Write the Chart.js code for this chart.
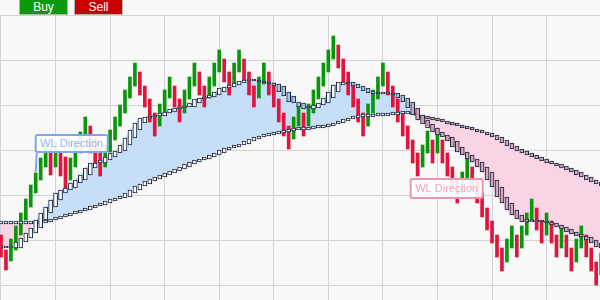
<!DOCTYPE html>
<html><head><meta charset="utf-8">
<script src="https://cdn.jsdelivr.net/npm/chart.js@4/dist/chart.umd.min.js"></script>
<style>
html,body{margin:0;padding:0;background:#f8f8f8;overflow:hidden}
#wrap{position:relative;width:600px;height:300px;font-family:"Liberation Sans",Arial,sans-serif}
canvas{position:absolute;left:0;top:0}
.btn{position:absolute;top:0;height:14px;width:47px;color:#fff;font-size:12px;line-height:14px;text-align:center;border:1px solid #b5b5b5;border-top:none}
</style></head><body>
<div id="wrap"><canvas id="c" width="600" height="300"></canvas>
<div class="btn" style="left:19px;background:#0a9a0a">Buy</div>
<div class="btn" style="left:74px;background:#c90000">Sell</div>
</div>
<script>
// Bar ranges (price units)
const highs = [65,50,61,74,87,101,115,127,142,155,153,158,148,143,142,157,168,183,174,162,152,155,170,183,195,210,223,237,228,214,201,187,196,210,223,214,201,210,223,237,228,214,223,237,250,241,228,237,250,241,228,214,223,237,228,217,201,187,174,183,196,187,196,210,223,237,250,264,255,241,228,214,201,187,196,210,223,237,228,214,201,187,174,160,147,155,169,160,169,160,147,133,120,128,142,133,120,107,92,79,65,52,61,74,65,74,87,101,92,79,87,79,65,74,65,52,61,74,65,52,38,47];
const lows  = [43,30,39,50,65,80,93,107,120,133,125,133,124,112,120,133,147,165,147,137,124,133,148,160,174,187,202,214,205,193,178,164,174,188,202,193,178,187,201,214,205,193,202,214,228,218,205,214,228,218,205,193,202,216,205,193,178,164,151,161,174,164,174,187,201,214,228,241,232,218,205,193,178,164,174,187,201,214,205,193,178,164,151,137,124,133,147,137,147,137,124,112,97,107,120,112,97,83,70,57,43,29,38,52,43,52,65,80,70,57,65,57,43,52,43,29,38,52,43,29,15,25];
const direction = ['D','D','U','U','U','U','U','U','U','U','D','U','D','D','U','U','U','U','D','D','D','U','U','U','U','U','U','U','D','D','D','D','U','U','U','D','D','U','U','U','D','D','U','U','U','D','D','U','U','D','D','D','U','U','D','D','D','D','D','U','U','D','U','U','U','U','U','U','D','D','D','D','D','D','U','U','U','U','D','D','D','D','D','D','D','U','U','D','U','D','D','D','D','U','U','D','D','D','D','D','D','D','U','U','D','U','U','U','D','D','U','D','D','U','D','D','U','U','D','D','D','U'];
// Fast and slow WL lines
const fast = [52,52,52,58,62,67,72,80,87,93,100,107,110,112,117,120,125,132,137,137,140,143,147,149,155,162,170,177,182,183,184,184,187,188,191,192,193,193,197,201,202,203,205,208,212,213,215,217,219,220,219,219,218,217,216,214,208,204,198,197,193,191,192,195,197,202,208,215,218,218,216,214,212,209,207,206,206,207,207,205,202,198,192,185,180,176,172,168,165,163,159,153,148,145,141,138,133,128,120,113,103,97,90,85,81,78,78,79,79,78,77,75,73,71,68,66,64,63,60,57,53,52];
const slow = [76,76,76,76,76,76,76,77,78,80,81,83,84,86,87,89,90,92,94,95,97,99,101,102,103,107,110,114,116,119,121,123,125,127,129,131,133,136,138,140,141,143,145,147,150,152,153,155,156,159,161,163,164,165,166,167,168,169,170,170,170,171,172,172,173,174,176,177,179,181,182,183,183,183,184,184,184,185,185,186,186,186,186,185,184,182,181,180,179,178,176,175,174,172,171,170,168,167,165,163,160,157,154,151,149,147,145,143,141,139,137,136,134,132,130,128,125,123,120,118,116,114];
const xGridTicks = [0,11,22,33,44,55,66,77,88,99,110];
const yGridTicks = [15,60,105,150,195,240,285];
const labelText = 'WL Direction';

const UP = '#0a960a', DOWN = '#e0143c';
const BLUE = 'rgb(198,222,248)', PINK = 'rgb(250,212,228)';
const prev = i => Math.max(0, i - 2);
const boxes = arr => arr.map((v, i) => ({x: i, y: [arr[prev(i)], v]}));
const boxColors = arr => arr.map((v, i) => v >= arr[prev(i)] ? '#f6f9fd' : (fast[i] > slow[i] ? '#a9c4e4' : '#d4a5bc'));

function drawLabel(ctx, x, y, w, h, border, color) {
  ctx.save();
  ctx.beginPath();
  ctx.roundRect(x + 1, y + 1, w - 2, h - 2, 2);
  ctx.fillStyle = 'rgba(255,255,255,0.9)';
  ctx.fill();
  ctx.lineWidth = 2;
  ctx.strokeStyle = border;
  ctx.stroke();
  ctx.fillStyle = color;
  ctx.font = '11px "Liberation Sans", Arial, sans-serif';
  ctx.textAlign = 'center';
  ctx.textBaseline = 'middle';
  ctx.fillText(labelText, x + w / 2, y + h / 2 + 0.5);
  ctx.restore();
}

const labelPlugin = {
  id: 'wlLabels',
  afterDatasetsDraw(chart) {
    const xs = chart.scales.x, ys = chart.scales.y, ctx = chart.ctx;
    let c1 = -1, c2 = -1;
    for (let i = 1; i < fast.length; i++) {
      const d0 = fast[i-1] - slow[i-1], d1 = fast[i] - slow[i];
      if (c1 < 0 && d0 <= 0 && d1 > 0) c1 = i;
      if (c2 < 0 && d0 > 0 && d1 <= 0) c2 = i;
    }
    if (c1 >= 0) {
      const ax = xs.getPixelForValue(c1), ay = ys.getPixelForValue(highs[c1]);
      ctx.save();
      ctx.strokeStyle = '#7fa6e6'; ctx.lineWidth = 2;
      ctx.beginPath(); ctx.moveTo(ax + 1, ay - 20); ctx.lineTo(ax, ay - 1); ctx.stroke();
      ctx.restore();
      drawLabel(ctx, ax - 1, ay - 39, 74, 19, '#7fa6e6', '#92b2ec');
    }
    if (c2 >= 0) {
      const ax = xs.getPixelForValue(c2), ay = ys.getPixelForValue(lows[c2]);
      drawLabel(ctx, ax - 3, ay + 15, 74, 21, '#e895b2', '#eda3bd');
    }
  }
};

new Chart(document.getElementById('c'), {
  type: 'bar',
  data: {
    datasets: [
      {type: 'line', data: fast.map((v, i) => ({x: i, y: v})), borderWidth: 0, borderColor: 'rgba(0,0,0,0)', pointRadius: 0,
       fill: {target: 1, above: BLUE, below: PINK}, order: 10},
      {type: 'line', data: slow.map((v, i) => ({x: i, y: v})), borderWidth: 0, borderColor: 'rgba(0,0,0,0)', pointRadius: 0, fill: false, order: 10},
      {type: 'bar', data: highs.map((h, i) => ({x: i, y: [lows[i], h]})),
       backgroundColor: direction.map(d => d === 'U' ? UP : DOWN), barThickness: 3, grouped: false, order: 5},
      {type: 'bar', data: boxes(slow), backgroundColor: boxColors(slow), borderColor: '#17223a', borderWidth: 1,
       borderSkipped: false, minBarLength: 3, barThickness: 4, grouped: false, order: 3},
      {type: 'bar', data: boxes(fast), backgroundColor: boxColors(fast), borderColor: '#17223a', borderWidth: 1,
       borderSkipped: false, minBarLength: 2, barThickness: 4, grouped: false, order: 1}
    ]
  },
  options: {
    responsive: false, animation: false, events: [],
    layout: {padding: {top: 15, left: 0, right: 0, bottom: 0}},
    plugins: {legend: {display: false}, tooltip: {enabled: false}},
    scales: {
      x: {type: 'linear', min: -0.2, max: 120.77, offset: false,
          grid: {color: '#d2d2d2', drawTicks: false, offset: false}, border: {display: false}, ticks: {display: false},
          afterBuildTicks: s => { s.ticks = xGridTicks.map(v => ({value: v})); }},
      y: {min: 0, max: 285,
          grid: {color: '#d2d2d2', drawTicks: false, offset: false}, border: {display: false}, ticks: {display: false},
          afterBuildTicks: s => { s.ticks = yGridTicks.map(v => ({value: v})); }}
    }
  },
  plugins: [labelPlugin]
});
</script>
</body></html>
